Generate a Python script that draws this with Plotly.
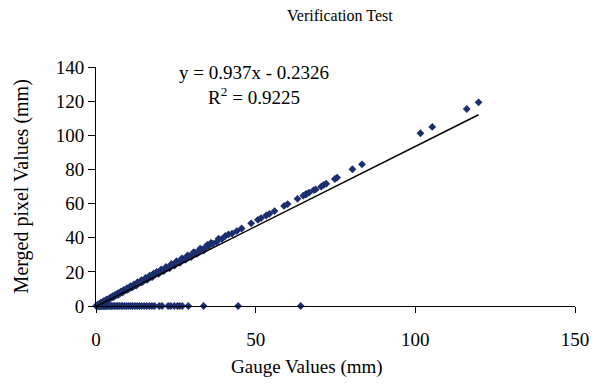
import plotly.graph_objects as go

# Points along the diagonal (gauge value, merged pixel value)
gauge_diag = [0.1, 0.3, 0.5, 0.8, 1.0, 1.3, 1.6, 1.9, 2.2, 2.5, 2.8, 3.1, 3.5, 3.8, 4.2,
              4.6, 5.0, 5.4, 5.8, 6.2, 6.7, 7.1, 7.6, 8.0, 8.5, 9.0, 9.5, 10.0, 10.6, 11.1,
              11.7, 12.2, 12.8, 13.4, 14.0, 14.6, 15.3, 15.9, 16.6, 17.2, 17.9, 18.6, 19.3,
              20.1, 20.8, 21.6, 22.4, 23.2, 24.0, 24.9, 25.7, 26.6, 27.5, 28.4, 29.3, 30.3,
              31.2, 32.2, 33.3, 34.3, 35.4, 36.6, 37.8, 39.4, 42.6, 44.1, 45.6, 48.6, 50.7,
              51.7, 53.3, 54.3, 55.9, 58.9, 60.0, 63.1, 64.9, 65.6, 65.9, 66.7, 68.2, 68.8,
              70.5, 71.3, 72.1, 74.8, 75.5, 80.3, 83.3, 101.6, 105.3, 116.1, 119.8]
merged_diag = [0.1, 0.3, 0.5, 0.8, 1.0, 1.3, 1.6, 1.9, 2.2, 2.5, 2.8, 3.1, 3.5, 3.8, 4.2,
               4.6, 5.0, 5.4, 5.8, 6.2, 6.7, 7.1, 7.6, 8.0, 8.5, 9.0, 9.4, 9.9, 10.5, 11.0,
               11.6, 12.1, 12.7, 13.3, 13.9, 14.5, 15.2, 15.8, 16.5, 17.1, 17.8, 18.5, 19.2,
               20.0, 20.7, 21.5, 22.3, 23.1, 23.9, 24.8, 25.6, 26.5, 27.4, 28.3, 29.2, 30.2,
               31.1, 32.1, 33.2, 34.2, 35.3, 36.5, 37.6, 39.2, 42.4, 43.9, 45.4, 48.4, 50.5,
               51.5, 53.0, 54.0, 55.6, 58.6, 59.7, 62.8, 64.6, 65.3, 65.6, 66.4, 67.9, 68.3,
               69.9, 70.9, 71.6, 74.4, 75.2, 80.1, 83.0, 101.2, 104.9, 115.4, 119.3]

# Dense-band points lying slightly above the diagonal
gauge_upper = [0.6, 1.5, 2.4, 3.3, 4.4, 5.2, 6.0, 6.9, 7.8, 8.7, 9.7, 10.8, 11.9, 13.0,
               14.2, 15.5, 16.8, 18.0, 19.0, 20.4, 21.9, 23.6, 25.2, 26.9, 28.7, 30.6,
               32.6, 34.8, 36.0, 38.4, 40.5, 41.5]
merged_upper = [0.9, 1.9, 2.9, 3.8, 4.9, 5.8, 6.6, 7.6, 8.5, 9.4, 10.5, 11.6, 12.7, 13.9,
                15.1, 16.4, 17.8, 19.0, 20.0, 21.4, 22.9, 24.6, 26.2, 27.9, 29.7, 31.6,
                33.6, 35.8, 37.0, 39.4, 41.0, 41.9]

# Dense-band points lying slightly below the diagonal
gauge_lower = [1.2, 2.7, 4.0, 5.6, 7.0, 8.3, 9.9, 11.4, 12.6, 14.4, 16.0, 17.6, 19.6,
               21.2, 23.0, 24.6, 26.3, 28.0, 29.8, 31.6, 33.8]
merged_lower = [1.0, 2.5, 3.7, 5.3, 6.6, 7.9, 9.4, 10.9, 12.0, 13.8, 15.3, 16.9, 18.8,
                20.4, 22.1, 23.7, 25.3, 27.0, 28.7, 30.5, 32.6]

# Points where merged pixel value is zero
gauge_zero = [0.1, 0.3, 0.5, 0.7, 0.9, 1.1, 1.4, 1.7, 2.0, 2.3, 2.6, 3.0, 3.3, 3.7, 4.1,
              4.5, 4.9, 5.3, 5.8, 6.3, 6.8, 7.3, 7.9, 8.4, 9.0, 9.6, 10.2, 10.9, 11.5, 12.2,
              12.9, 13.6, 14.3, 15.1, 15.9, 16.7, 17.5, 18.3, 19.8, 20.7, 22.6, 23.4, 24.5,
              25.5, 26.2, 27.0, 28.9, 33.7, 44.5, 64.1]
merged_zero = [0.0] * len(gauge_zero)

# Linear trendline as labelled on the chart
slope = 0.937
intercept = -0.2326
r_squared = 0.9225
trend_x = [0.0, 119.8]

x_ticks = [0, 50, 100, 150]
y_ticks = [0, 20, 40, 60, 80, 100, 120, 140]

FONT = "Liberation Serif"
NAVY = "#1b2f6e"

gx = gauge_diag + gauge_upper + gauge_lower + gauge_zero
gy = merged_diag + merged_upper + merged_lower + merged_zero

fig = go.Figure()
fig.add_trace(go.Scatter(
    x=gx, y=gy,
    mode="markers", marker=dict(symbol="diamond", size=6, color=NAVY, line=dict(width=0)),
    cliponaxis=False, showlegend=False))
fig.add_trace(go.Scatter(
    x=trend_x, y=[slope * v + intercept for v in trend_x],
    mode="lines", line=dict(color="black", width=1.5),
    cliponaxis=False, showlegend=False))

# trendline equation
fig.add_annotation(
    x=(257 - 96) / 488, y=(306 - 85) / 239, xref="paper", yref="paper",
    xanchor="center", yanchor="middle",
    text=f"y = {slope}x - {abs(intercept)}<br>R<sup>2</sup> = {r_squared}",
    showarrow=False, align="center", font=dict(family=FONT, size=19, color="black"))
# chart title
fig.add_annotation(
    x=(345 - 96) / 488, y=(306 - 15) / 239, xref="paper", yref="paper",
    xanchor="center", yanchor="middle", text="Verification Test", showarrow=False,
    font=dict(family=FONT, size=16, color="black"))
# axis titles
fig.add_annotation(
    x=(311 - 96) / 488, y=(306 - 367) / 239, xref="paper", yref="paper",
    xanchor="center", yanchor="middle", text="Gauge Values (mm)", showarrow=False,
    font=dict(family=FONT, size=19, color="black"))
fig.add_annotation(
    x=(20 - 96) / 488, y=(306 - 186) / 239, xref="paper", yref="paper",
    xanchor="center", yanchor="middle", text="Merged pixel Values (mm)", showarrow=False,
    textangle=-90, font=dict(family=FONT, size=20, color="black"))

fig.update_layout(
    width=601, height=385,
    margin=dict(l=96, r=17, t=67, b=79),
    paper_bgcolor="white", plot_bgcolor="white",
    font=dict(family=FONT, size=19, color="black"),
    xaxis=dict(range=[0, 150], tickvals=x_ticks, showgrid=False, zeroline=False,
               showline=True, linecolor="black", linewidth=1,
               ticks="outside", ticklen=6, tickcolor="black", ticklabelstandoff=10,
               tickfont=dict(family=FONT, size=19)),
    yaxis=dict(range=[0, 140], tickvals=y_ticks, showgrid=False, zeroline=False,
               showline=True, linecolor="black", linewidth=1,
               ticks="outside", ticklen=7, tickcolor="black",
               tickfont=dict(family=FONT, size=19)),
)

fig.write_html("out.html")
